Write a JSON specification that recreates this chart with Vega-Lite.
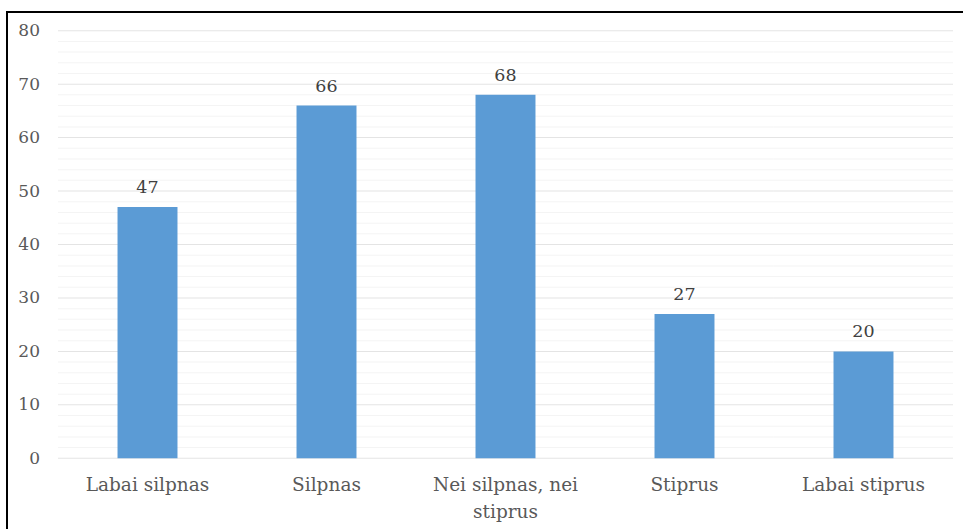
{
  "$schema": "https://vega.github.io/schema/vega-lite/v6.json",
  "autosize": {"type": "none"},
  "padding": {"left": 7, "top": 12, "right": 0, "bottom": 0},
  "width": 958,
  "height": 519,
  "background": "white",
  "config": {
    "view": {"stroke": "black", "strokeWidth": 2},
    "font": "DejaVu Serif"
  },
  "datasets": {
    "bars": [
      {"category": "Labai silpnas", "count": 47},
      {"category": "Silpnas", "count": 66},
      {"category": "Nei silpnas, nei stiprus", "count": 68},
      {"category": "Stiprus", "count": 27},
      {"category": "Labai stiprus", "count": 20}
    ],
    "grid": [
      {"v": 0, "major": true}, {"v": 2, "major": false}, {"v": 4, "major": false}, {"v": 6, "major": false}, {"v": 8, "major": false},
      {"v": 10, "major": true}, {"v": 12, "major": false}, {"v": 14, "major": false}, {"v": 16, "major": false}, {"v": 18, "major": false},
      {"v": 20, "major": true}, {"v": 22, "major": false}, {"v": 24, "major": false}, {"v": 26, "major": false}, {"v": 28, "major": false},
      {"v": 30, "major": true}, {"v": 32, "major": false}, {"v": 34, "major": false}, {"v": 36, "major": false}, {"v": 38, "major": false},
      {"v": 40, "major": true}, {"v": 42, "major": false}, {"v": 44, "major": false}, {"v": 46, "major": false}, {"v": 48, "major": false},
      {"v": 50, "major": true}, {"v": 52, "major": false}, {"v": 54, "major": false}, {"v": 56, "major": false}, {"v": 58, "major": false},
      {"v": 60, "major": true}, {"v": 62, "major": false}, {"v": 64, "major": false}, {"v": 66, "major": false}, {"v": 68, "major": false},
      {"v": 70, "major": true}, {"v": 72, "major": false}, {"v": 74, "major": false}, {"v": 76, "major": false}, {"v": 78, "major": false},
      {"v": 80, "major": true}
    ]
  },
  "layer": [
    {
      "data": {"name": "grid"},
      "mark": {"type": "tick", "size": 179, "thickness": 1},
      "encoding": {
        "x": {
          "datum": "Labai silpnas",
          "type": "nominal",
          "scale": {"domain": ["Labai silpnas", "Silpnas", "Nei silpnas, nei stiprus", "Stiprus", "Labai stiprus"], "paddingInner": 0, "paddingOuter": 0.176, "align": 0.8095, "round": false},
          "axis": {
            "title": null,
            "orient": "bottom",
            "domain": false,
            "ticks": false,
            "tickSize": 0,
            "labelPadding": 0,
            "offset": -55.5,
            "labelAngle": 0,
            "labelBaseline": "top",
            "labelFont": "DejaVu Serif",
            "labelFontSize": 18.5,
            "labelColor": "#595959",
            "labelLineHeight": 27,
            "labelLimit": 0,
            "labelExpr": "datum.value == 'Nei silpnas, nei stiprus' ? ['Nei silpnas, nei', 'stiprus'] : datum.label"
          }
        },
        "y": {
          "field": "v",
          "type": "quantitative",
          "scale": {"domain": [-13.6, 83.5], "nice": false, "zero": false},
          "axis": {
            "title": null,
            "values": [0, 10, 20, 30, 40, 50, 60, 70, 80],
            "grid": false,
            "domain": false,
            "ticks": false,
            "tickSize": 0,
            "labelPadding": 0,
            "offset": -32.5,
            "labelFont": "DejaVu Serif",
            "labelFontSize": 17,
            "labelColor": "#595959"
          }
        },
        "color": {"condition": {"test": "datum.major", "value": "#d9d9d9"}, "value": "#f0f0f0"}
      }
    },
    {
      "data": {"name": "grid"},
      "mark": {"type": "tick", "size": 179, "thickness": 1},
      "encoding": {
        "x": {"datum": "Silpnas", "type": "nominal"},
        "y": {"field": "v", "type": "quantitative"},
        "color": {"condition": {"test": "datum.major", "value": "#d9d9d9"}, "value": "#f0f0f0"}
      }
    },
    {
      "data": {"name": "grid"},
      "mark": {"type": "tick", "size": 179, "thickness": 1},
      "encoding": {
        "x": {"datum": "Nei silpnas, nei stiprus", "type": "nominal"},
        "y": {"field": "v", "type": "quantitative"},
        "color": {"condition": {"test": "datum.major", "value": "#d9d9d9"}, "value": "#f0f0f0"}
      }
    },
    {
      "data": {"name": "grid"},
      "mark": {"type": "tick", "size": 179, "thickness": 1},
      "encoding": {
        "x": {"datum": "Stiprus", "type": "nominal"},
        "y": {"field": "v", "type": "quantitative"},
        "color": {"condition": {"test": "datum.major", "value": "#d9d9d9"}, "value": "#f0f0f0"}
      }
    },
    {
      "data": {"name": "grid"},
      "mark": {"type": "tick", "size": 179, "thickness": 1},
      "encoding": {
        "x": {"datum": "Labai stiprus", "type": "nominal"},
        "y": {"field": "v", "type": "quantitative"},
        "color": {"condition": {"test": "datum.major", "value": "#d9d9d9"}, "value": "#f0f0f0"}
      }
    },
    {
      "data": {"name": "bars"},
      "mark": {"type": "bar", "color": "#5B9BD5", "width": {"band": 0.335}},
      "encoding": {
        "x": {"field": "category", "type": "nominal", "sort": null},
        "y": {"field": "count", "type": "quantitative"},
        "y2": {"datum": 0}
      }
    },
    {
      "data": {"name": "bars"},
      "mark": {"type": "text", "baseline": "alphabetic", "dy": -14, "font": "DejaVu Serif", "fontSize": 17.5, "color": "#404040"},
      "encoding": {
        "x": {"field": "category", "type": "nominal", "sort": null},
        "y": {"field": "count", "type": "quantitative"},
        "text": {"field": "count", "type": "quantitative"}
      }
    }
  ]
}
